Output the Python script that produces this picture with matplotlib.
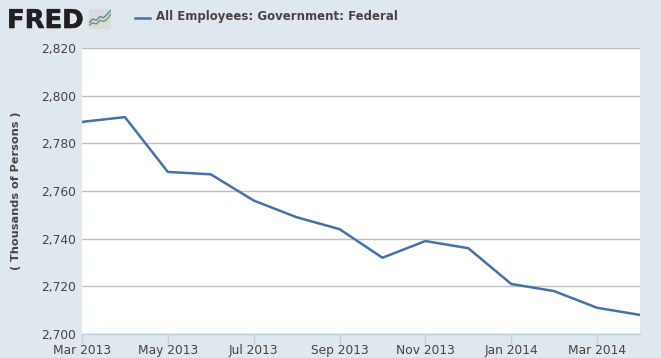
import matplotlib
matplotlib.use("Agg")
import matplotlib.pyplot as plt
import matplotlib.patheffects as pe
import numpy as np

W, H = 661, 358

months = ["Mar 2013", "Apr 2013", "May 2013", "Jun 2013", "Jul 2013", "Aug 2013", "Sep 2013",
          "Oct 2013", "Nov 2013", "Dec 2013", "Jan 2014", "Feb 2014", "Mar 2014", "Apr 2014"]
values = [2789, 2791, 2768, 2767, 2756, 2749, 2744, 2732, 2739, 2736, 2721, 2718, 2711, 2708]
y_ticks = [2700, 2720, 2740, 2760, 2780, 2800, 2820]
series_name = "All Employees: Government: Federal"
y_label = "( Thousands of Persons )"

icon_blue = [2, 5, 4, 7, 6, 9, 12]
icon_green = [0, 2, 1, 4, 3, 5, 9]

BG = "#dfe7ef"
LINE = "#4572a7"
TEXT = "#4d4142"

fig = plt.figure(figsize=(W / 100, H / 100), dpi=100, facecolor=BG)
ax = fig.add_axes([82 / W, 1 - 334 / H, 558 / W, 286 / H])
ax.set_facecolor("white")

x = np.arange(len(months))
ax.plot(x, values, color=LINE, lw=1.8, solid_joinstyle="round", zorder=3)

ax.set_xlim(0, len(months) - 1)
ax.set_ylim(2700, 2820)
ax.set_yticks(y_ticks)
ax.set_yticklabels([f"{v:,}" for v in y_ticks])
ax.set_xticks(x[::2])
ax.set_xticklabels(months[::2])

ax.grid(axis="y", color="#c0c0c0", lw=1, zorder=1)
ax.tick_params(axis="y", length=0, pad=4, labelsize=8.8, labelcolor=TEXT)
ax.tick_params(axis="x", length=7, width=1, color="#c0d0e0", direction="out", pad=0,
               labelsize=8.8, labelcolor=TEXT)

for side in ["top", "right", "left"]:
    ax.spines[side].set_visible(False)
ax.spines["bottom"].set_color("#c0d0e0")
ax.spines["bottom"].set_linewidth(1)

fig.text(16 / W, 1 - 191 / H, y_label, rotation=90, ha="center", va="center",
         fontsize=8.1, fontweight="bold", color=TEXT)

# logo
logo = fig.text(7 / W, 1 - 28 / H, "FRED", ha="left", va="baseline", fontsize=18.6,
                fontweight="bold", color="#231f20")
logo.set_path_effects([pe.withStroke(linewidth=0.4, foreground="#231f20")])
icon = fig.add_axes([89 / W, 1 - 29 / H, 22 / W, 20 / H])
icon.set_facecolor("#d9dcdc")
icon.plot(icon_blue, color="#5b84ad", lw=1.0)
icon.plot(icon_green, color="#6f9e4e", lw=1.0)
icon.set_xlim(0, 6)
icon.set_ylim(-3, 13)
icon.set_xticks([])
icon.set_yticks([])
for side in icon.spines.values():
    side.set_visible(False)

# legend
fig.add_artist(plt.Line2D([135 / W, 150 / W], [1 - 18 / H, 1 - 18 / H], color=LINE, lw=1.8))
fig.text(156 / W, 1 - 16.5 / H, series_name, ha="left", va="center", fontsize=8.5,
         fontweight="bold", color=TEXT)

fig.savefig("out.png", dpi=100, facecolor=BG)
